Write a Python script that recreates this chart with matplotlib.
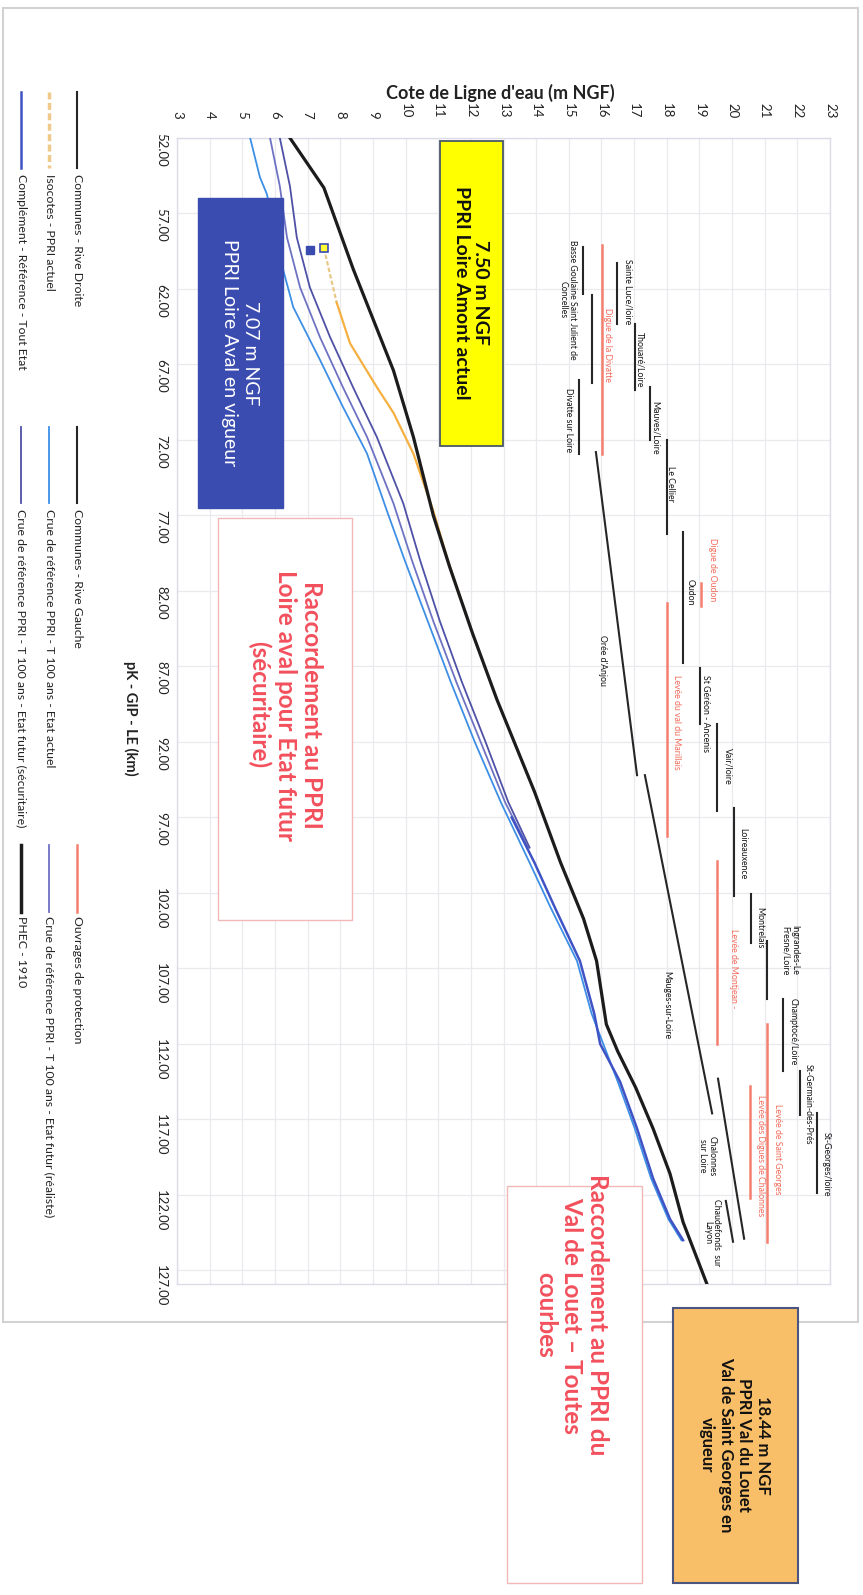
import numpy as np
import matplotlib
matplotlib.use("Agg")
import matplotlib.pyplot as plt
from matplotlib.patches import Rectangle
from matplotlib.lines import Line2D

plt.rcParams['font.family'] = ['Lato', 'DejaVu Sans']

# ---------------- data (cote in m NGF, pK in km) ----------------
pk_phec = [52.0, 55.3, 60.7, 67.4, 71.8, 77.0, 80.4, 84.8, 89.2, 95.3, 100.0,
           103.7, 106.5, 110.7, 112.5, 114.9, 117.6, 120.6, 123.8, 127.9]
z_phec = [6.46, 7.50, 8.40, 9.63, 10.24, 10.85, 11.35, 12.05, 12.80, 13.95, 14.75,
          15.45, 15.85, 16.15, 16.50, 17.05, 17.58, 18.10, 18.50, 19.23]

pk_actuel = [52.0, 54.6, 55.7, 58.0, 60.8, 63.2, 66.7, 69.8, 72.9, 76.7, 80.0, 84.0,
             88.0, 92.0, 96.0, 100.0, 103.0, 106.5, 110.0, 114.5, 117.6, 120.9, 123.6, 125.0]
z_actuel = [5.24, 5.54, 5.75, 6.00, 6.26, 6.56, 7.38, 8.08, 8.82, 9.43, 9.98, 10.68,
            11.38, 12.12, 12.92, 13.80, 14.45, 15.25, 15.70, 16.50, 17.02, 17.52, 18.05, 18.45]

pk_futur = [52.0, 55.2, 58.6, 61.9, 65.2, 68.5, 71.8, 76.2, 80.0, 84.0, 88.0, 92.0, 96.0, 99.0]
z_realiste = [5.85, 6.15, 6.37, 6.77, 7.38, 8.08, 8.82, 9.63, 10.20, 10.85, 11.55, 12.30, 13.05, 13.75]
z_securitaire = [6.15, 6.46, 6.67, 7.07, 7.69, 8.39, 9.12, 9.93, 10.45, 11.05, 11.72, 12.45, 13.15, 13.80]

pk_compl = [97.0, 100.0, 103.0, 106.5, 110.0, 112.0, 114.5, 117.6, 120.9, 123.6, 125.0]
z_compl = [13.25, 13.95, 14.58, 15.34, 15.78, 15.96, 16.57, 17.09, 17.58, 18.10, 18.50]
pk_compl_pt = [59.4]
z_compl_pt = [7.07]

pk_iso = [59.3, 62.9, 65.6, 68.5, 70.2, 72.9, 76.7, 80.0, 84.5]
z_iso = [7.50, 7.89, 8.30, 9.12, 9.63, 10.24, 10.85, 11.30, 12.00]

# communes rive droite (vertical segments)
rd_z = [16.48, 17.03, 17.49, 18.01, 18.50, 19.02, 19.54, 20.06, 20.58, 21.07, 21.56, 22.08, 22.60]
rd_pk0 = [60.3, 64.3, 68.5, 72.0, 78.1, 87.1, 90.8, 96.4, 102.1, 105.2, 109.0, 113.8, 116.6]
rd_pk1 = [64.3, 68.7, 72.0, 78.2, 86.8, 90.8, 96.6, 102.2, 105.3, 109.0, 113.8, 116.7, 121.9]

# communes rive gauche
rg_z0 = [15.43, 15.71, 15.31, 15.83, 17.33, 19.57, 19.81]
rg_z1 = [15.43, 15.71, 15.31, 17.09, 19.39, 20.37, 20.03]
rg_pk0 = [59.2, 62.4, 68.0, 72.8, 94.2, 114.3, 122.4]
rg_pk1 = [62.3, 68.2, 72.9, 94.2, 116.6, 124.9, 125.1]

# ouvrages de protection
ouv_z = [16.02, 19.05, 18.02, 19.55, 21.07, 20.55]
ouv_pk0 = [59.1, 81.5, 82.8, 99.9, 110.7, 114.8]
ouv_pk1 = [72.9, 83.0, 98.2, 112.0, 125.1, 122.2]

# commune / ouvrage labels: text, cote, pK, is_ouvrage
lab_txt = ["Sainte Luce/loire", "Thouaré/Loire", "Mauves/Loire", "Le Cellier", "Oudon",
           "Digue de Oudon", "Basse Goulaine Saint Julient de\nConcelles", "Divatte sur Loire",
           "Digue de la Divatte", "Orée d'Anjou", "Levée du val du Marillais",
           "St Géréon - Ancenis", "Vair/loire", "Loireauxence", "Levée de Montjean -",
           "Montrelais", "Ingrandes-Le\nFresne/Loire", "Champtocé/Loire", "Mauges-sur-Loire",
           "St-Germain-des-Prés", "St-Georges/loire", "Levée de Saint Georges",
           "Levée des Digues de Chalonnes", "Chalonnes\nsur Loire", "Chaudefonds  sur\nLayon"]
lab_z = [16.81, 17.18, 17.64, 18.13, 18.71, 19.39, 14.96, 14.98, 16.20, 16.02, 18.31,
         19.20, 19.88, 20.34, 20.03, 20.86, 21.77, 21.87, 18.01, 22.33, 22.88, 21.38,
         20.86, 19.23, 19.39]
lab_pk = [62.15, 66.7, 71.2, 74.9, 82.1, 80.6, 62.7, 70.7, 65.7, 86.6, 90.7, 90.1, 93.6,
          99.4, 107.0, 104.3, 105.8, 111.2, 109.4, 116.0, 120.0, 119.0, 119.4, 119.4, 124.5]
lab_ouv = [0, 0, 0, 0, 0, 1, 0, 0, 1, 0, 1, 0, 0, 0, 1, 0, 0, 0, 0, 0, 0, 1, 1, 0, 0]

cote_ticks = list(range(3, 24))
pk_ticks = list(range(52, 128, 5))

# ---------------- figure (chart drawn rotated 90 deg clockwise) ----------------
W, H = 863, 1595
fig = plt.figure(figsize=(W / 100, H / 100), dpi=100)


def fx(px):
    return px / W


def fy(py):
    return 1 - py / H


def box(x0, y0, x1, y1, face, edge, lw=1.0, z=5):
    r = Rectangle((fx(x0), fy(y1)), fx(x1) - fx(x0), fy(y0) - fy(y1),
                  transform=fig.transFigure, facecolor=face, edgecolor=edge, lw=lw, zorder=z)
    fig.add_artist(r)


# outer chart frame
box(3, 8, 858, 1322, 'none', '#d2d2d2', lw=1.5, z=0)

ax = fig.add_axes([fx(177), fy(1284), fx(830) - fx(177), fy(138) - fy(1284)])
ax.set_xlim(3, 23)
ax.set_ylim(127.9, 52)
ax.set_xticks(cote_ticks)
ax.set_yticks(pk_ticks)
ax.set_yticklabels([f"{v:.2f}" for v in pk_ticks])
ax.xaxis.tick_top()
ax.tick_params(axis='x', length=0, pad=14, labelrotation=-90, labelsize=9.5, colors='#222222')
ax.tick_params(axis='y', length=0, pad=7, labelrotation=-90, labelsize=9.5, colors='#222222')
ax.grid(True, color='#e9e9ee', lw=0.9)
ax.set_axisbelow(True)
for s in ax.spines.values():
    s.set_color('#dcdce8')
    s.set_linewidth(1.0)

# communes
for z, a, b in zip(rd_z, rd_pk0, rd_pk1):
    ax.plot([z, z], [a, b], color='#262626', lw=1.5, zorder=3)
for z0, z1, a, b in zip(rg_z0, rg_z1, rg_pk0, rg_pk1):
    ax.plot([z0, z1], [a, b], color='#262626', lw=1.5, zorder=3)
for z, a, b in zip(ouv_z, ouv_pk0, ouv_pk1):
    ax.plot([z, z], [a, b], color='#f47f6e', lw=1.8, zorder=3)

for t, z, p, o in zip(lab_txt, lab_z, lab_pk, lab_ouv):
    ax.text(z, p, t, rotation=-90, ha='center', va='center', fontsize=6.3,
            color='#f26a5a' if o else '#141414', multialignment='center',
            linespacing=1.1, zorder=4)

# water lines
ax.plot(z_actuel, pk_actuel, color='#3d8fe6', lw=1.3, zorder=5)
ax.plot(z_realiste, pk_futur, color='#6e72c2', lw=1.3, zorder=5)
ax.plot(z_securitaire, pk_futur, color='#4e51a6', lw=1.3, zorder=5)
ax.plot(z_compl, pk_compl, color='#3f53c4', lw=1.8, zorder=6)
ax.plot(z_compl_pt, pk_compl_pt, ls='none', marker='s', ms=5.5, color='#3a4bb0', zorder=8)
ax.plot(z_iso[:2], pk_iso[:2], color='#e9c98a', lw=1.6, ls=(0, (2, 1)), zorder=6)
ax.plot(z_iso[1:], pk_iso[1:], color='#f5b041', lw=1.6, zorder=6)
ax.plot(z_iso[:1], pk_iso[:1], ls='none', marker='s', ms=6, mfc='#ffff33',
        mec='#3a4bb0', mew=1.2, zorder=8)
ax.plot(z_phec, pk_phec, color='#1c1c1c', lw=2.3, zorder=7)

# axis titles
fig.text(fx(500), fy(93), "Cote de Ligne d'eau (m NGF)", ha='center', va='center',
         fontsize=13, fontweight='bold', color='#222222')
fig.text(fx(131), fy(718), "pK - GIP - LE (km)", rotation=-90, ha='center', va='center',
         fontsize=10.5, fontweight='bold', color='#222222')

# legend (drawn by hand because the chart is rotated)
leg = [
    (77, 92, 168, 174, "Communes - Rive Droite", '#262626', 1.5, '-'),
    (49, 92, 168, 174, "Isocotes - PPRI actuel", '#efc98a', 2.5, (0, (2, 1))),
    (21, 92, 168, 174, "Complément - Référence - Tout Etat", '#3f53c4', 1.8, '-'),
    (77, 427, 503, 509, "Communes - Rive Gauche", '#262626', 1.5, '-'),
    (49, 427, 503, 509, "Crue de référence PPRI - T 100 ans - Etat actuel", '#3d8fe6', 1.3, '-'),
    (21, 427, 503, 509, "Crue de référence PPRI - T 100 ans - Etat futur (sécuritaire)", '#4e51a6', 1.3, '-'),
    (77, 845, 912, 916, "Ouvrages de protection", '#f47f6e', 1.8, '-'),
    (49, 845, 912, 916, "Crue de référence PPRI - T 100 ans - Etat futur (réaliste)", '#6e72c2', 1.3, '-'),
    (21, 845, 912, 916, "PHEC - 1910", '#1c1c1c', 2.5, '-'),
]
for x, y0, y1, yt, t, c, lw, ls in leg:
    fig.add_artist(Line2D([fx(x), fx(x)], [fy(y0), fy(y1)], color=c, lw=lw, ls=ls,
                          transform=fig.transFigure))
    fig.text(fx(x), fy(yt), t, rotation=-90, ha='center', va='top', fontsize=8.8,
             color='#222222')

# annotation boxes
box(440, 141, 503, 446, '#ffff00', '#4a5868', lw=1.3, z=9)
fig.text(fx(471), fy(293), "7.50 m NGF\nPPRI Loire Amont actuel", rotation=-90,
         ha='center', va='center', fontsize=14, fontweight='bold', color='#111111',
         multialignment='center', zorder=10)

box(198, 198, 283, 508, '#3b4cb0', '#3b4cb0', lw=1.0, z=9)
fig.text(fx(240), fy(353), "7.07 m NGF\nPPRI Loire Aval en vigueur", rotation=-90,
         ha='center', va='center', fontsize=14, color='white',
         multialignment='center', linespacing=1.25, zorder=10)

box(218, 518, 352, 920, 'white', '#f2b8b8', lw=1.0, z=9)
fig.text(fx(285), fy(705), "Raccordement au PPRI\nLoire aval pour Etat futur\n(sécuritaire)",
         rotation=-90, ha='center', va='center', fontsize=17.5, fontweight='bold',
         color='#f2505c', multialignment='center', linespacing=1.15, zorder=10)

box(507, 1186, 642, 1583, 'white', '#f2b8b8', lw=1.0, z=9)
fig.text(fx(572), fy(1315), "Raccordement au PPRI du\nVal de Louet – Toutes\ncourbes",
         rotation=-90, ha='center', va='center', fontsize=17.5, fontweight='bold',
         color='#f2505c', multialignment='center', linespacing=1.15, zorder=10)

box(673, 1308, 798, 1583, '#f9bf68', '#4b5580', lw=1.5, z=9)
fig.text(fx(735), fy(1445), "18.44 m NGF\nPPRI Val du Louet\nVal de Saint Georges en\nvigueur",
         rotation=-90, ha='center', va='center', fontsize=12, fontweight='bold',
         color='#111111', multialignment='center', zorder=10)

fig.savefig("out.png", dpi=100)
